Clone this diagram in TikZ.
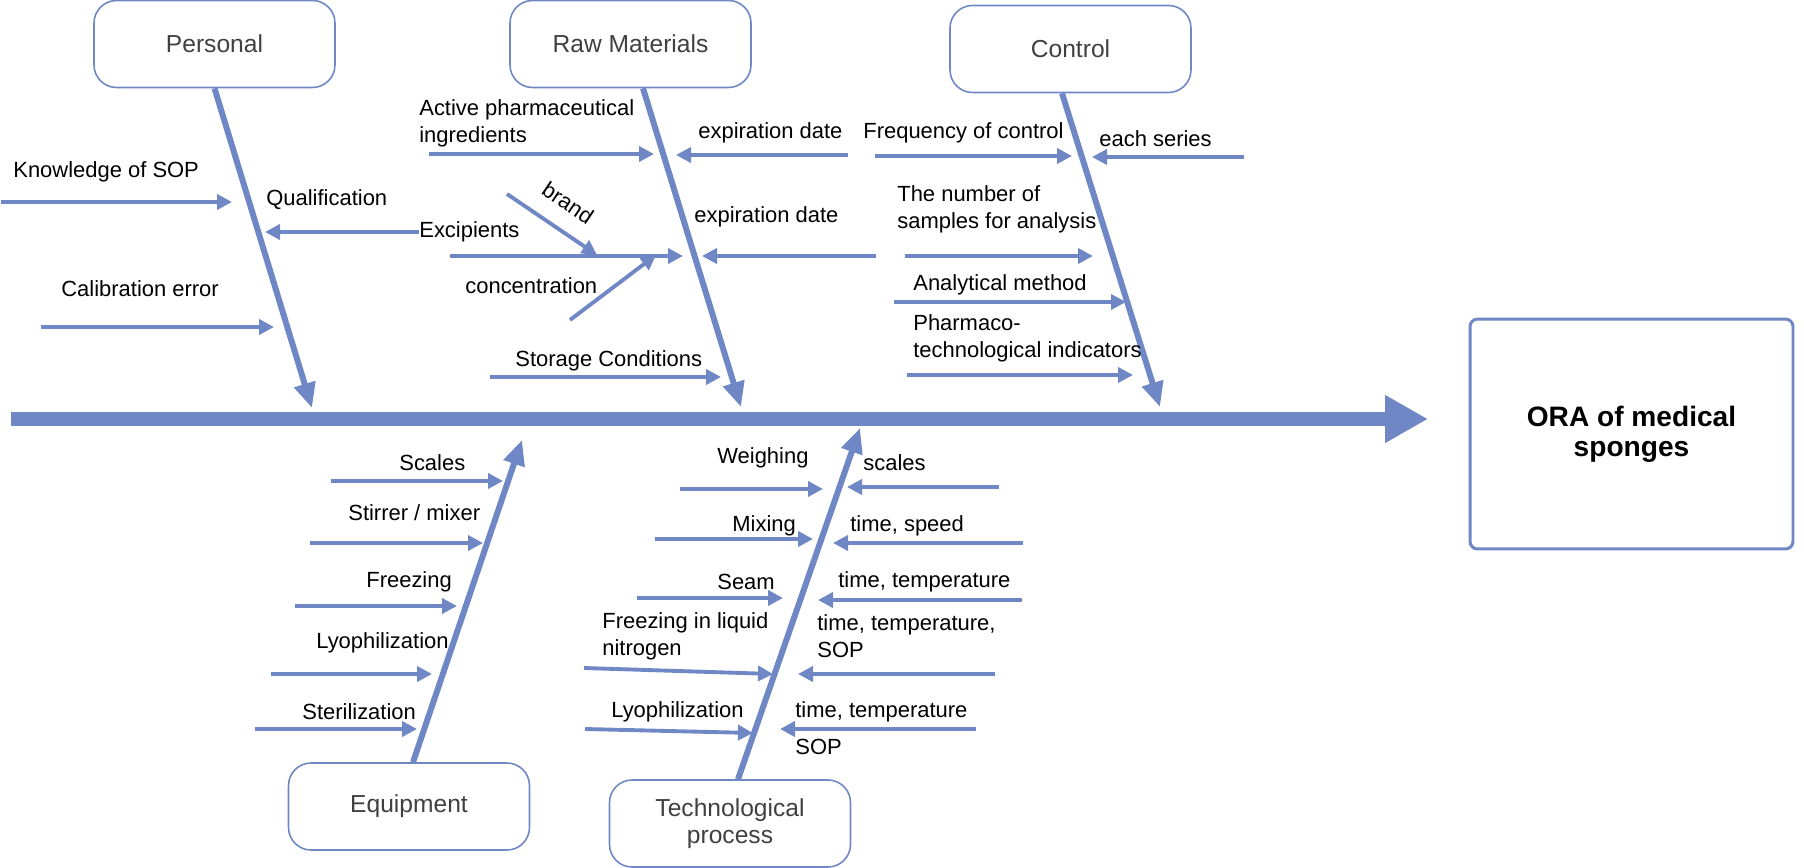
\documentclass[tikz,border=0pt]{standalone}
\usepackage{fontspec}
\setmainfont{Liberation Sans}
\usepackage{tikz}
\usetikzlibrary{arrows.meta, positioning, calc}
\definecolor{bonecol}{RGB}{111,135,197}
\definecolor{titlecol}{RGB}{64,64,64}
\tikzset{%
	cat/.style={draw=bonecol, line width=0.9pt, rectangle, rounded corners=0.45cm,%
		minimum width=4.82cm, minimum height=1.74cm, align=center, text=titlecol,%
		font=\fontsize{14}{15.3}\selectfont},
	effect/.style={draw=bonecol, line width=1.7pt, rectangle, rounded corners=0.15cm,%
		minimum width=6.46cm, minimum height=4.6cm, align=center,%
		font=\fontsize{16}{17}\selectfont\bfseries},
	lbl/.style={anchor=west, inner sep=0pt, align=left, font=\fontsize{12.5}{15.3}\selectfont},
	cause/.style={draw=bonecol, line width=2.2pt, -{Triangle[length=0.3cm, width=0.3cm]}},
	bone/.style={draw=bonecol, line width=3.4pt, -{Triangle[length=0.5cm, width=0.42cm]}},
	spine/.style={draw=bonecol, line width=8pt, -{Triangle[length=0.86cm, width=0.9cm]}}
}

\begin{document}
\begin{tikzpicture}[x=0.02cm, y=-0.02cm]
	\useasboundingbox (0,0) rectangle (1804,868);

	\node[cat] (pers) at (214.5,44) {Personal};
	\node[cat] (raw) at (630.5,44) {Raw Materials};
	\node[cat] (ctrl) at (1070.5,49) {Control};
	\node[cat] (equip) at (409,806.5) {Equipment};
	\node[cat] (tech) at (730,823.5) {Technological\\process};
	\node[effect] (ora) at (1631.5,434) {ORA of medical\\sponges};

	% spine and bones
	\coordinate (tail) at (11,419);
	\coordinate (head) at (1428,419);
	\coordinate (persend) at (312,408);
	\coordinate (rawend) at (741,407);
	\coordinate (ctrlend) at (1160,407);
	\coordinate (equipend) at (522,440);
	\coordinate (techend) at (860,428);
	\draw[spine] (tail) -- (head);
	\draw[bone] (pers.south) -- (persend);
	\draw[bone] ([xshift=0.25cm]raw.south) -- (rawend);
	\draw[bone] ([xshift=-0.17cm]ctrl.south) -- (ctrlend);
	\draw[bone] ([xshift=0.08cm]equip.north) -- (equipend);
	\draw[bone] ([xshift=0.16cm]tech.north) -- (techend);

	% Personal
	\node[lbl] (sop) at (13,172) {Knowledge of SOP};
	\node[lbl] (qual) at (266,200) {Qualification};
	\node[lbl] (calib) at (61,289) {Calibration error};
	\node[lbl] (excp) at (419,232) {Excipients};

	% Raw Materials
	\node[lbl] (api) at (419,123.5) {Active pharmaceutical\\ingredients};
	\node[lbl] (exp1) at (698,133) {expiration date};
	\node[lbl, rotate=-34, anchor=center] (brand) at (568,203) {brand};
	\node[lbl] (conc) at (465,286) {concentration};
	\node[lbl] (exp2) at (694,217) {expiration date};
	\node[lbl] (stor) at (515,361) {Storage Conditions};

	% Control
	\node[lbl] (freq) at (863,133) {Frequency of control};
	\node[lbl] (series) at (1099,139) {each series};
	\node[lbl] (nsamp) at (897,209.5) {The number of\\samples for analysis};
	\node[lbl] (anal) at (913,285) {Analytical method};
	\node[lbl] (pharm) at (913,338.5) {Pharmaco-\\technological indicators};

	% Equipment
	\node[lbl] (scal) at (399,463) {Scales};
	\node[lbl] (stir) at (348,513) {Stirrer / mixer};
	\node[lbl] (frz) at (366,582) {Freezing};
	\node[lbl] (lyo) at (316,643) {Lyophilization};
	\node[lbl] (ster) at (302,712) {Sterilization};

	% Technological process
	\node[lbl] (weigh) at (717,458) {Weighing};
	\node[lbl] (tscal) at (863,463) {scales};
	\node[lbl] (mix) at (732,526) {Mixing};
	\node[lbl] (tspeed) at (850,526) {time, speed};
	\node[lbl] (seam) at (717,582) {Seam};
	\node[lbl] (ttemp) at (838,582) {time, temperature};
	\node[lbl] (nitro) at (602,636.5) {Freezing in liquid\\nitrogen};
	\node[lbl] (ttsop) at (817,636.5) {time, temperature,\\SOP};
	\node[lbl] (tlyo) at (611,712) {Lyophilization};
	\node[lbl] (ttemp2) at (795,712) {time, temperature};
	\node[lbl] (tsop) at (795,747) {SOP};

	% cause arrows
	\foreach \xa/\ya/\xb/\yb [count=\i] in {%
		1/202/232/202, 41/327/274/327,% Personal
		429/154/654/154, 848/155/676/155, 450/256/683/256, 876/256/702/256,%
		490/377/721/377, 507/194/597/255, 570/320/656/255,% Raw Materials
		875/156/1072/156, 1244/157/1092/157, 905/256/1093/256,%
		894/302/1126/302, 907/375/1133/375,% Control
		331/481/503/481, 310/543/483/543, 295/606/457/606,%
		271/674/432/674, 255/729/417/729,% Equipment
		680/489/823/489, 999/487/847/487, 655/539/813/539, 1023/543/833/543,%
		637/598/783/598, 1022/600/818/600, 584/668/773/674, 995/674/798/674,%
		585/729/753/733, 976/729/780/729}{% Technological process
		\coordinate (ca\i) at (\xa,\ya);
		\coordinate (cb\i) at (\xb,\yb);
		\draw[cause] (ca\i) -- (cb\i);
	}
	\coordinate (qualend) at (265,232);
	\draw[cause] (excp.west) -- (qualend);
\end{tikzpicture}
\end{document}
